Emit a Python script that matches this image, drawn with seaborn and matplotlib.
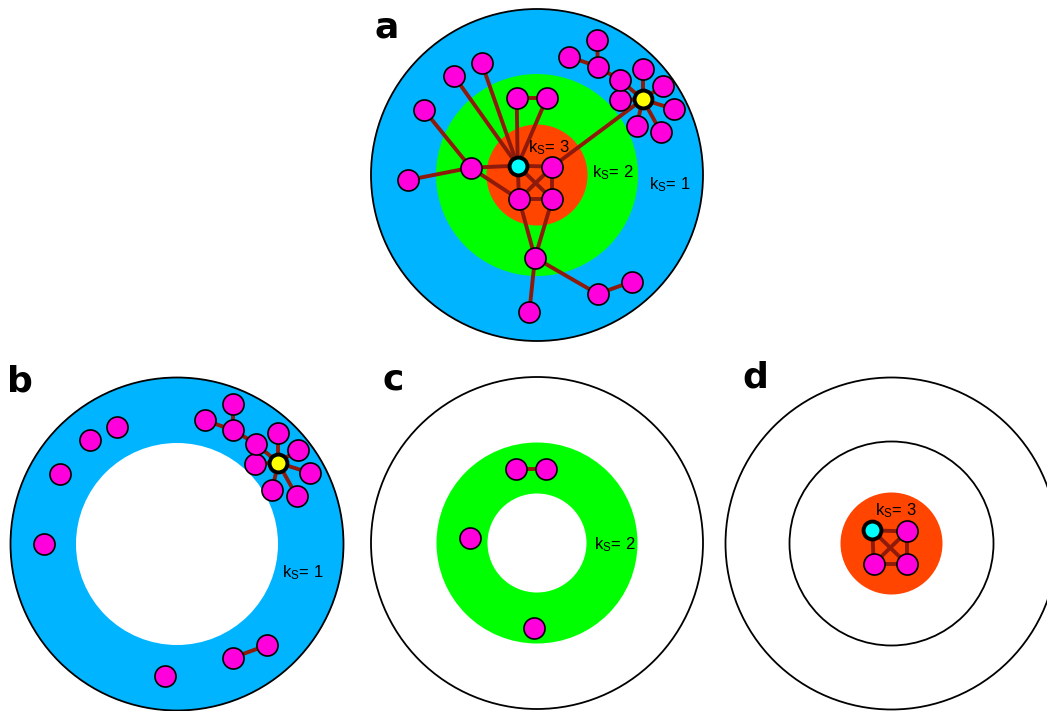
import matplotlib
matplotlib.use("Agg")
import matplotlib.pyplot as plt
from matplotlib.patches import Circle
import seaborn as sns
import pandas as pd

sns.set_theme(style="white")
plt.rcParams['font.family'] = ['Liberation Sans', 'DejaVu Sans']
plt.rcParams['mathtext.fontset'] = 'custom'
plt.rcParams['mathtext.rm'] = 'Liberation Sans'
plt.rcParams['mathtext.it'] = 'Liberation Sans'
plt.rcParams['text.color'] = 'black'

# ---- data (positions as in panel a, pixel units) ----
node_x = [517.7, 552.3, 519.0, 552.3, 470.7, 516.7, 546.7, 535.0, 408.3, 424.0,
          454.0, 481.7, 529.3, 597.7, 631.7, 642.7, 619.7, 620.0, 597.7, 597.3,
          569.3, 642.7, 662.7, 674.3, 661.0, 636.7]
node_y = [165.7, 166.7, 199.3, 199.3, 167.7, 98.3, 98.3, 257.7, 180.0, 110.0,
          76.0, 63.3, 312.3, 294.0, 281.7, 99.3, 100.0, 80.0, 66.7, 40.0,
          56.7, 69.0, 86.0, 109.3, 132.3, 126.0]
node_shell = [3, 3, 3, 3, 2, 2, 2, 2, 1, 1,
              1, 1, 1, 1, 1, 1, 1, 1, 1, 1,
              1, 1, 1, 1, 1, 1]
node_kind = ['hub3', 'n', 'n', 'n', 'n', 'n', 'n', 'n', 'n', 'n',
             'n', 'n', 'n', 'n', 'n', 'hub1', 'n', 'n', 'n', 'n',
             'n', 'n', 'n', 'n', 'n', 'n']
edge_src = [0, 0, 0, 1, 1, 2, 0, 4, 4, 4, 0, 0, 0, 0, 5, 1, 2, 3, 7, 7, 13,
            15, 15, 15, 15, 15, 15, 15, 17, 18, 18]
edge_dst = [1, 2, 3, 2, 3, 3, 4, 8, 9, 2, 10, 11, 5, 6, 6, 15, 7, 7, 12, 13, 14,
            16, 17, 21, 22, 23, 24, 25, 18, 19, 20]

panel_labels = ['a', 'b', 'c', 'd']
panel_shells = [[1, 2, 3], [1], [2], [3]]
shell_labels = ['k$_\\mathregular{S}$= 1', 'k$_\\mathregular{S}$= 2', 'k$_\\mathregular{S}$= 3']

# ---- layout ----
BLUE, GREEN, RED = '#00B4FF', '#00FF00', '#FF4500'
MAG, CYAN, YEL, EDGE = '#FF00DD', '#00FFFF', '#FFFF00', '#8E1A0C'

ring_centers = {'a': (537, 175), 'b': (177, 544), 'c': (537, 543), 'd': (891.5, 543.5)}
node_offsets = {'a': (0, 0), 'b': (-364.5, 363.5), 'c': (-0.8, 370.5), 'd': (354.7, 364.7)}
letter_pos = {'a': (374, 37), 'b': (7, 392), 'c': (382, 390), 'd': (742, 388)}
shell_text_pos = {
    'a': {3: (549, 148), 2: (613, 173), 1: (670, 185)},
    'b': {1: (303, 573)},
    'c': {2: (615, 545)},
    'd': {3: (896, 511)},
}

fig = plt.figure(figsize=(10.47, 7.11), dpi=100)
ax = fig.add_axes([0, 0, 1, 1])
ax.set_xlim(0, 1047)
ax.set_ylim(711, 0)
ax.set_aspect('equal')
ax.axis('off')


def rings(p):
    cx, cy = ring_centers[p]
    if p == 'a':
        specs = [(166, BLUE, 'black'), (101, GREEN, 'none'), (50.5, RED, 'none')]
    elif p == 'b':
        specs = [(166.5, BLUE, 'black'), (101, 'white', 'none')]
    elif p == 'c':
        specs = [(166, 'white', 'black'), (100.5, GREEN, 'none'), (49.5, 'white', 'none')]
    else:
        specs = [(166, 'white', 'black'), (102, 'white', 'black'), (51, RED, 'none')]
    for r, fc, ec in specs:
        ax.add_patch(Circle((cx, cy), r, facecolor=fc, edgecolor=ec, lw=1.3, zorder=1))


for p, shells in zip(panel_labels, panel_shells):
    rings(p)
    dx, dy = node_offsets[p]
    keep = [i for i in range(len(node_x)) if node_shell[i] in shells]
    # edges
    for s, d in zip(edge_src, edge_dst):
        if s in keep and d in keep:
            ax.plot([node_x[s] + dx, node_x[d] + dx], [node_y[s] + dy, node_y[d] + dy],
                    color=EDGE, lw=2.8, solid_capstyle='butt', zorder=2)
    df = pd.DataFrame({'x': [node_x[i] + dx for i in keep],
                       'y': [node_y[i] + dy for i in keep],
                       'kind': [node_kind[i] for i in keep]})
    normal = df[df.kind == 'n']
    sns.scatterplot(data=normal, x='x', y='y', ax=ax, s=230, color=MAG,
                    edgecolor='black', linewidth=1.2, zorder=3, legend=False)
    for kind, col in [('hub3', CYAN), ('hub1', YEL)]:
        sub = df[df.kind == kind]
        if len(sub):
            sns.scatterplot(data=sub, x='x', y='y', ax=ax, s=165, color=col,
                            edgecolor='black', linewidth=2.8, zorder=4, legend=False)
    lx, ly = letter_pos[p]
    ax.text(lx, ly, p, fontsize=26, fontweight='heavy', family=['DejaVu Sans'],
            color='black', ha='left', va='baseline', zorder=5)
    for sh, (tx, ty) in shell_text_pos[p].items():
        ax.text(tx, ty, shell_labels[sh - 1], fontsize=12, color='black',
                ha='center', va='center', zorder=5)

ax.set_xlabel('')
ax.set_ylabel('')
fig.savefig('out.png', dpi=100)
